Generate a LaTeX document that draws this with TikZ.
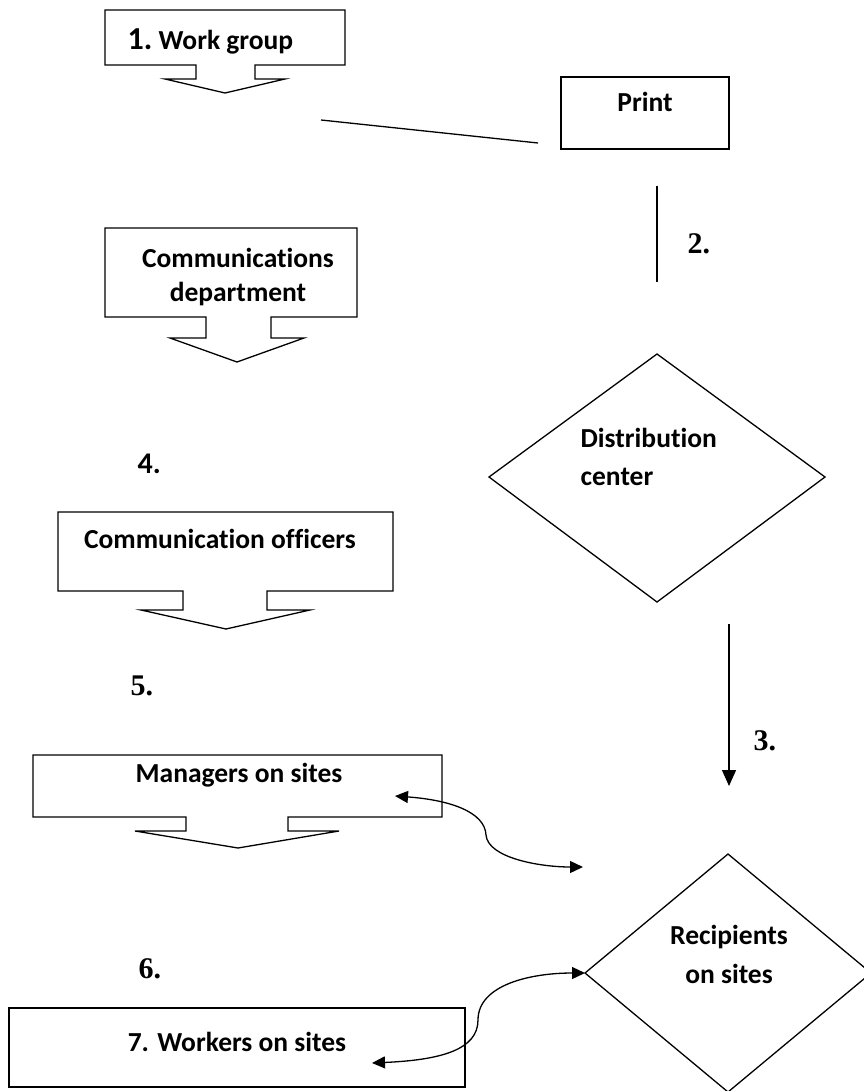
\documentclass[tikz,border=0pt]{standalone}
\usepackage{fontspec}
\setmainfont{Carlito}[Ligatures={NoCommon,NoContextual}]
\newfontfamily\numfont{Liberation Serif}
\usetikzlibrary{arrows.meta}
\begin{document}
\begin{tikzpicture}[x=1pt,y=-1pt,line width=1.3pt,
  shapeline/.style={line width=1.3pt, line join=miter},
  lbl/.style={font=\bfseries\fontsize{27.5}{32}\selectfont, inner sep=0, anchor=base},
  lblw/.style={font=\bfseries\fontsize{27.5}{32}\selectfont, inner sep=0, anchor=base west},
  num/.style={font=\numfont\bfseries\fontsize{30}{32}\selectfont, inner sep=0, anchor=base west},
  conn/.style={line width=1.3pt},
  dtip/.style={{Triangle[length=13pt,width=12pt]}-{Triangle[length=13pt,width=12pt]}},
  stip/.style={-{Triangle[length=16pt,width=14pt]}}]
\useasboundingbox (0,0) rectangle (863,1091);
% ---- block arrows
\draw[shapeline] (105,10)--(345,10)--(345,65)--(255,65)--(255,79)--(285,79)--(225,93)--(165,79)--(196,79)--(196,65)--(105,65)--cycle;
\node[lblw] (wg) at (127,50) {{\fontsize{32}{32}\selectfont 1.}\ Work group};
\draw[shapeline] (105,228)--(357,228)--(357,317)--(271,317)--(271,338)--(304,338)--(237,362)--(170,338)--(206,338)--(206,317)--(105,317)--cycle;
\node[lbl] (cd1) at (238,267) {Communications};
\node[lbl] (cd2) at (238,301) {department};
\draw[shapeline] (58,512)--(393,512)--(393,591)--(267,591)--(267,610)--(310,610)--(226,629)--(141,610)--(183,610)--(183,591)--(58,591)--cycle;
\node[lbl] (co) at (220,548) {Communication officers};
\draw[shapeline] (33,755)--(442,755)--(442,817)--(288,817)--(288,831)--(339,831)--(238,848)--(135,831)--(186,831)--(186,817)--(33,817)--cycle;
\node[lbl] (ms) at (239,782) {Managers on sites};
% ---- plain boxes
\draw[shapeline] (561,77) rectangle (729,149);
\node[lbl] (pr) at (645,112) {Print};
\draw[shapeline] (9,1008) rectangle (465,1087);
\node[lbl] (ws) at (237,1051) {7. Workers on sites};
% ---- diamonds
\draw[shapeline] (657,354)--(825,477)--(657,602)--(489,477)--cycle;
\node[lblw] (dc1) at (580,447) {Distribution};
\node[lblw] (dc2) at (580,485) {center};
\draw[shapeline] (728,854)--(871,973)--(728,1092)--(585,973)--cycle;
\node[lbl] (rs1) at (729,944) {Recipients};
\node[lbl] (rs2) at (729,983) {on sites};
\coordinate (recW) at (585,973);
% ---- numbers
\node[num] (n2) at (687,253) {2.};
\node[num] (n3) at (753,750) {3.};
\node[lblw, font=\bfseries\fontsize{30}{32}\selectfont] (n4) at (137,473) {4.};
\node[num] (n5) at (130,695) {5.};
\node[num] (n6) at (138,978) {6.};
% ---- connectors
\coordinate (l1a) at (321,120); \coordinate (l1b) at (538,143);
\draw[conn] (l1a) -- (l1b);
\coordinate (l2a) at (657,186); \coordinate (l2b) at (657,282);
\draw[conn] (l2a) -- (l2b);
\coordinate (a3a) at (729,624); \coordinate (a3b) at (729,786);
\draw[conn, stip] (a3a) -- (a3b);
\coordinate (c1a) at (395,796); \coordinate (c1b) at (583,867);
\draw[conn, dtip] (c1a) .. controls (450,800) and (485,812) .. (486,835) .. controls (488,858) and (540,867) .. (c1b);
\coordinate (c2a) at (372,1063);
\draw[conn, dtip] (c2a) .. controls (440,1060) and (478,1050) .. (478,1020) .. controls (478,985) and (530,973) .. (recW);
\end{tikzpicture}
\end{document}
